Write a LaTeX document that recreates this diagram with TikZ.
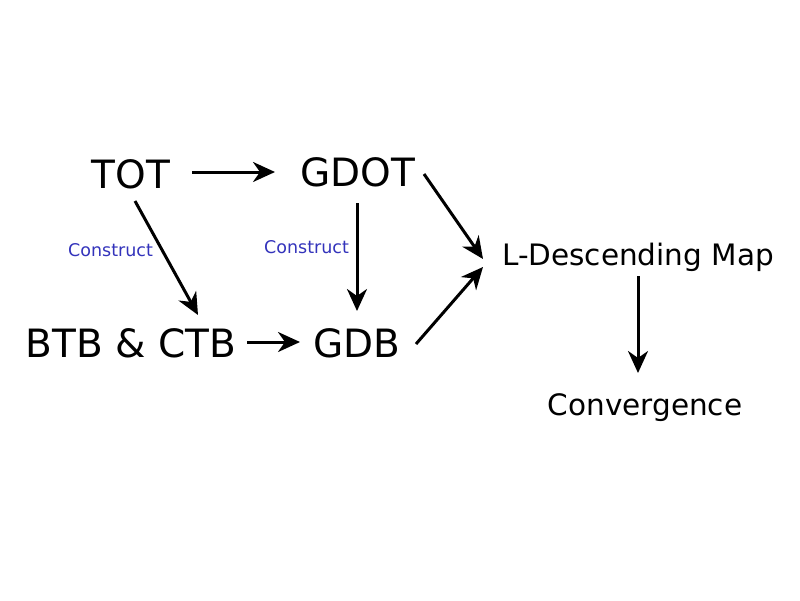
\documentclass[tikz,border=0pt]{standalone}
\usepackage{fontspec}
\setmainfont{DejaVu Sans}
\usetikzlibrary{arrows.meta}
\definecolor{cblue}{RGB}{51,51,187}
\begin{document}
\begin{tikzpicture}[x=1pt,y=-1pt,
  big/.style={anchor=base,inner sep=0pt,font=\fontsize{39}{47}\selectfont},
  mid/.style={anchor=base,inner sep=0pt,font=\fontsize{29.5}{35}\selectfont},
  lab/.style={anchor=base,inner sep=0pt,text=cblue,font=\fontsize{17.5}{21}\selectfont},
  arr/.style={line width=3pt,-{Stealth[length=22pt,width=20pt,inset=7pt]}}]
\useasboundingbox (0,0) rectangle (800,600);
\node[big] (tot) at (131,188) {TOT};
\node[big] (gdot) at (358,186) {GDOT};
\node[big] (btb) at (131,357) {BTB \& CTB};
\node[big] (gdb) at (357,357) {GDB};
\node[mid] (ldm) at (638,265) {L-Descending Map};
\node[mid] (conv) at (645,415) {Convergence};
\node[lab] (c1) at (110.5,256) {Construct};
\node[lab] (c2) at (306.5,253) {Construct};
\draw[arr] ([shift={(61,-16)}]tot.base) -- ([shift={(-83,-14)}]gdot.base);
\draw[arr] ([shift={(4,13)}]tot.base) -- ([shift={(67,-42)}]btb.base);
\draw[arr] ([shift={(-1,17)}]gdot.base) -- ([shift={(0,-46)}]gdb.base);
\draw[arr] ([shift={(116,-15)}]btb.base) -- ([shift={(-57,-15)}]gdb.base);
\draw[arr] ([shift={(59,-13)}]gdb.base) -- ([shift={(-155,2)}]ldm.base);
\draw[arr] ([shift={(66,-12)}]gdot.base) -- ([shift={(-155,-6)}]ldm.base);
\draw[arr] ([shift={(0,11)}]ldm.base) -- ([shift={(-7,-42)}]conv.base);
\end{tikzpicture}
\end{document}
